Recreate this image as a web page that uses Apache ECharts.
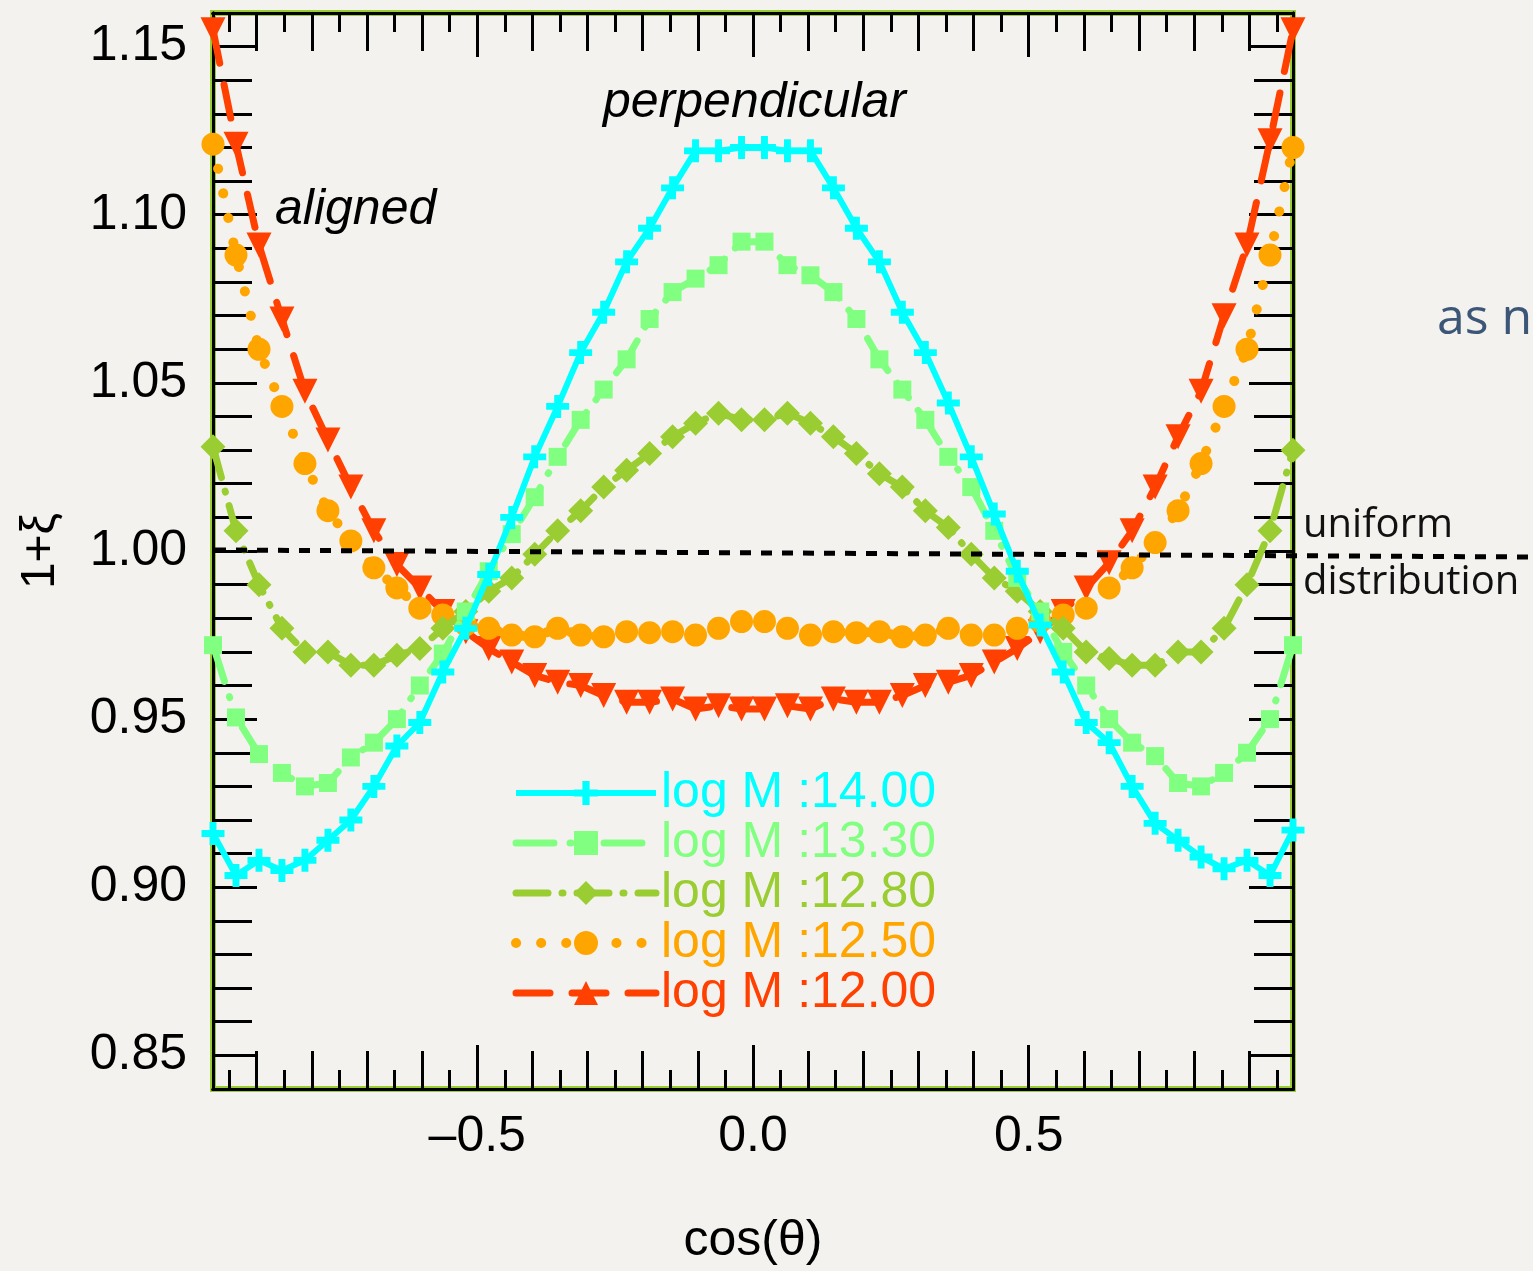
<!DOCTYPE html>
<html>
<head>
<meta charset="utf-8">
<title>1+xi vs cos(theta)</title>
<script src="https://cdn.jsdelivr.net/npm/echarts@6/dist/echarts.min.js"></script>
<style>
  html, body { margin: 0; padding: 0; background: #f4f2ee; }
  #chart { width: 1533px; height: 1271px; }
</style>
</head>
<body>
<div id="chart"></div>
<script>
// bin centres of cos(theta)
const cosBins = [-0.9792, -0.9375, -0.8958, -0.8542, -0.8125, -0.7708, -0.7292, -0.6875,
  -0.6458, -0.6042, -0.5625, -0.5208, -0.4792, -0.4375, -0.3958, -0.3542, -0.3125, -0.2708,
  -0.2292, -0.1875, -0.1458, -0.1042, -0.0625, -0.0208, 0.0208, 0.0625, 0.1042, 0.1458,
  0.1875, 0.2292, 0.2708, 0.3125, 0.3542, 0.3958, 0.4375, 0.4792, 0.5208, 0.5625, 0.6042,
  0.6458, 0.6875, 0.7292, 0.7708, 0.8125, 0.8542, 0.8958, 0.9375, 0.9792];

const logM1400 = [0.916, 0.9035, 0.908, 0.905, 0.908, 0.914, 0.920, 0.930, 0.942, 0.949, 0.964, 0.977,
  0.993, 1.010, 1.028, 1.043, 1.059, 1.071, 1.086, 1.096, 1.108, 1.119, 1.119, 1.120,
  1.120, 1.119, 1.119, 1.108, 1.096, 1.086, 1.071, 1.059, 1.044, 1.028, 1.011, 0.994,
  0.978, 0.964, 0.949, 0.943, 0.930, 0.919, 0.914, 0.909, 0.9055, 0.908, 0.9035, 0.917];

const logM1330 = [0.972, 0.9505, 0.9396, 0.934, 0.930, 0.931, 0.9386, 0.943, 0.950, 0.960, 0.9695, 0.982,
  0.994, 1.005, 1.016, 1.028, 1.039, 1.048, 1.057, 1.069, 1.077, 1.081, 1.085, 1.092,
  1.092, 1.085, 1.082, 1.077, 1.069, 1.057, 1.048, 1.039, 1.028, 1.019, 1.006, 0.992,
  0.982, 0.970, 0.960, 0.950, 0.943, 0.939, 0.931, 0.930, 0.934, 0.940, 0.950, 0.972];

const logM1280 = [1.031, 1.006, 0.990, 0.977, 0.970, 0.970, 0.966, 0.966, 0.969, 0.971, 0.977, 0.982,
  0.988, 0.992, 0.999, 1.006, 1.012, 1.019, 1.024, 1.029, 1.034, 1.038, 1.041, 1.039,
  1.039, 1.041, 1.038, 1.034, 1.029, 1.023, 1.019, 1.012, 1.007, 0.999, 0.992, 0.988,
  0.982, 0.977, 0.970, 0.968, 0.966, 0.966, 0.970, 0.970, 0.977, 0.990, 1.006, 1.030];

const logM1250 = [1.121, 1.088, 1.060, 1.043, 1.026, 1.012, 1.003, 0.995, 0.989, 0.983, 0.981, 0.978,
  0.977, 0.975, 0.9745, 0.977, 0.975, 0.9745, 0.976, 0.9757, 0.976, 0.975, 0.977, 0.979,
  0.979, 0.977, 0.975, 0.976, 0.9757, 0.976, 0.9745, 0.975, 0.977, 0.975, 0.975, 0.977,
  0.979, 0.981, 0.983, 0.989, 0.995, 1.0025, 1.012, 1.026, 1.043, 1.060, 1.088, 1.120];

const logM1200 = [1.155, 1.121, 1.091, 1.069, 1.0475, 1.033, 1.019, 1.006, 0.996, 0.989, 0.982, 0.976,
  0.971, 0.967, 0.963, 0.961, 0.960, 0.957, 0.955, 0.955, 0.956, 0.953, 0.954, 0.953,
  0.953, 0.954, 0.953, 0.956, 0.955, 0.955, 0.957, 0.960, 0.961, 0.963, 0.967, 0.971,
  0.976, 0.982, 0.989, 0.9965, 1.006, 1.019, 1.034, 1.0475, 1.070, 1.091, 1.122, 1.155];

const seriesNames = ['log M :14.00', 'log M :13.30', 'log M :12.80', 'log M :12.50', 'log M :12.00'];
const seriesColors = ['#00ffff', '#80ff80', '#9acd32', '#ffa500', '#ff4000'];

const xTickLabels = [-0.5, 0.0, 0.5];
const yTickLabels = [0.85, 0.90, 0.95, 1.00, 1.05, 1.10, 1.15];

const xMin = -0.9792, xMax = 0.9792;
const yMin = 0.84, yMax = 1.16;

// tick positions: every 0.1 and the odd 0.05 in between
const xMidTicks = [], xMinorTicks = [], yMinorTicks = [];
for (let k = -19; k <= 19; k++) {
  if (k % 2 === 0) xMidTicks.push(k / 20);
  else xMinorTicks.push(k / 20);
}
for (let k = 84; k <= 116; k++) yMinorTicks.push(k / 100);

const font = '"Liberation Sans", Arial, Helvetica, sans-serif';
const black = { color: '#000', width: 3 };

function xAxisDef(position, ticks, len, labels) {
  return {
    type: 'value', position, min: xMin, max: xMax,
    axisLine: { show: true, onZero: false, lineStyle: black },
    splitLine: { show: false },
    axisTick: { show: true, inside: true, length: len, customValues: ticks, lineStyle: black },
    axisLabel: labels ? {
      customValues: xTickLabels, margin: 23, fontSize: 50, fontFamily: font, color: '#000',
      formatter: v => (v < 0 ? '\u2013' : '') + Math.abs(v).toFixed(1)
    } : { show: false }
  };
}

function yAxisDef(position, ticks, len, labels) {
  return {
    type: 'value', position, min: yMin, max: yMax,
    axisLine: { show: true, onZero: false, lineStyle: black },
    splitLine: { show: false },
    axisTick: { show: true, inside: true, length: len, customValues: ticks, lineStyle: black },
    axisLabel: labels ? {
      customValues: yTickLabels, margin: 26, fontSize: 50, fontFamily: font, color: '#000',
      formatter: v => v.toFixed(2)
    } : { show: false }
  };
}

const xAxes = [
  xAxisDef('bottom', xTickLabels, 44, true),
  xAxisDef('bottom', xMidTicks, 38, false),
  xAxisDef('bottom', xMinorTicks, 19, false),
  xAxisDef('top', xTickLabels, 44, false),
  xAxisDef('top', xMidTicks, 38, false),
  xAxisDef('top', xMinorTicks, 19, false)
];
xAxes[0].name = 'cos(\u03b8)';
xAxes[0].nameLocation = 'middle';
xAxes[0].nameGap = 127;
xAxes[0].nameTextStyle = { fontSize: 50, fontFamily: font, color: '#000' };

const yAxes = [
  yAxisDef('left', yTickLabels, 44, true),
  yAxisDef('left', yMinorTicks, 39, false),
  yAxisDef('right', yTickLabels, 44, false),
  yAxisDef('right', yMinorTicks, 39, false)
];
yAxes[0].name = '1+\u03be';
yAxes[0].nameLocation = 'middle';
yAxes[0].nameRotate = 90;
yAxes[0].nameGap = 148;
yAxes[0].nameTextStyle = { fontSize: 48, fontFamily: font, color: '#000' };

const pairs = ys => cosBins.map((x, i) => [x, ys[i]]);
const plusPath = 'path://M3.5,0h3v3.5h3.5v3h-3.5v3.5h-3v-3.5h-3.5v-3h3.5z';

const styles = [
  { data: logM1400, symbol: plusPath, size: 23, line: { width: 6, type: 'solid' } },
  { data: logM1330, symbol: 'rect', size: 18, line: { width: 7, type: [38, 16, 1, 16, 1, 16], cap: 'round' } },
  { data: logM1280, symbol: 'diamond', size: 25, line: { width: 7, type: [32, 14, 1, 14], cap: 'round' } },
  { data: logM1250, symbol: 'circle', size: 23, line: { width: 10, type: [0.1, 25], cap: 'round' } },
  { data: logM1200, symbol: 'triangle', size: 25, rotate: 180, line: { width: 7, type: [34, 22], cap: 'round' } }
];

const series = styles.map((s, i) => ({
  name: seriesNames[i],
  type: 'line',
  data: pairs(s.data),
  symbol: s.symbol,
  symbolSize: s.size,
  symbolRotate: s.rotate || 0,
  showAllSymbol: true,
  lineStyle: Object.assign({ color: seriesColors[i] }, s.line),
  itemStyle: { color: seriesColors[i] },
  z: 10 - i
}));

const option = {
  backgroundColor: '#f4f2ee',
  animation: false,
  grid: {
    left: 213, top: 13, right: 240, bottom: 182,
    show: true, borderColor: '#9acd32', borderWidth: 6, backgroundColor: 'transparent'
  },
  xAxis: xAxes,
  yAxis: yAxes,
  legend: {
    orient: 'vertical',
    left: 506, top: 763,
    itemWidth: 140, itemHeight: 30, itemGap: 0,
    textStyle: { fontSize: 50, lineHeight: 49, fontFamily: font },
    data: seriesNames.map((n, i) => ({
      name: n,
      symbolRotate: 0,
      lineStyle: Object.assign({ color: seriesColors[i] }, styles[i].line),
      textStyle: { color: seriesColors[i] }
    }))
  },
  series,
  graphic: [
    {
      type: 'line', z: 100,
      shape: { x1: 215, y1: 550, x2: 1533, y2: 557 },
      style: { stroke: '#000', lineWidth: 5, lineDash: [11, 10] }
    },
    {
      type: 'text', x: 603, y: 103, z: 100,
      style: { text: 'perpendicular', font: 'italic 50px ' + font, fill: '#000', textVerticalAlign: 'middle' }
    },
    {
      type: 'text', x: 275, y: 210, z: 100,
      style: { text: 'aligned', font: 'italic 50px ' + font, fill: '#000', textVerticalAlign: 'middle' }
    },
    {
      type: 'text', x: 1303, y: 526, z: 100,
      style: { text: 'uniform', font: '40px "Open Sans", sans-serif', fill: '#111', textVerticalAlign: 'middle' }
    },
    {
      type: 'text', x: 1303, y: 583, z: 100,
      style: { text: 'distribution', font: '40px "Open Sans", sans-serif', fill: '#111', textVerticalAlign: 'middle' }
    },
    {
      type: 'text', x: 1437, y: 320, z: 100,
      style: { text: 'as n', font: '50px "Open Sans", sans-serif', fill: '#3b5677', textVerticalAlign: 'middle' }
    }
  ]
};

const chart = echarts.init(document.getElementById('chart'));
chart.setOption(option);
</script>
</body>
</html>
